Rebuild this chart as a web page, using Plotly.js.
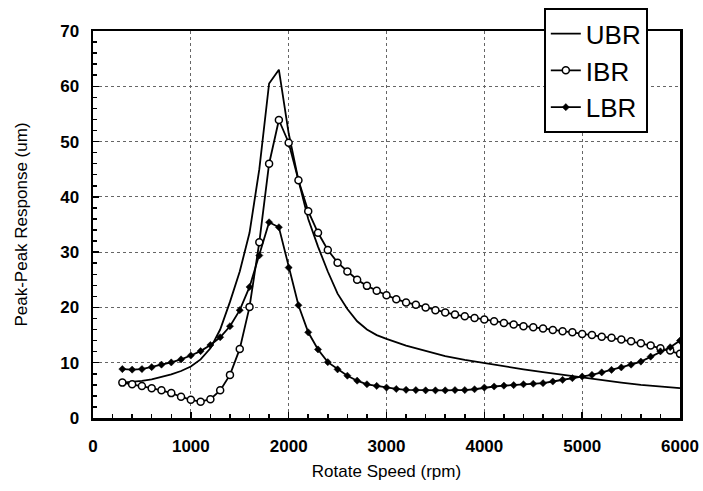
<!DOCTYPE html>
<html>
<head>
<meta charset="utf-8">
<script src="https://cdn.plot.ly/plotly-3.0.1.min.js"></script>
<style>html,body{margin:0;padding:0;background:#fff;}#chart{width:703px;height:491px;}</style>
</head>
<body>
<div id="chart"></div>
<script>
// Rotate speed (rpm) for the marked series
const speedMarked = [300,400,500,600,700,800,900,1000,1100,1200,1300,1400,1500,1600,1700,1800,1900,2000,
  2100,2200,2300,2400,2500,2600,2700,2800,2900,3000,3100,3200,3300,3400,3500,3600,3700,3800,3900,4000,
  4100,4200,4300,4400,4500,4600,4700,4800,4900,5000,5100,5200,5300,5400,5500,5600,5700,5800,5900,6000];

const ibr = [6.4,6.1,5.8,5.4,5.0,4.5,3.85,3.3,2.95,3.4,5.0,7.8,12.5,20.1,31.8,46.0,53.9,49.8,
  43.0,37.4,33.5,30.4,28.1,26.5,25.0,23.9,23.0,22.2,21.5,20.9,20.5,20.0,19.5,19.1,18.7,18.4,18.1,17.8,
  17.5,17.2,16.9,16.6,16.4,16.2,15.9,15.7,15.5,15.2,15.0,14.7,14.5,14.2,13.9,13.5,13.1,12.6,12.2,11.6];

const lbr = [8.85,8.75,8.85,9.2,9.65,10.05,10.6,11.3,12.1,13.2,14.6,16.6,19.5,23.7,29.4,35.4,34.5,27.2,
  20.4,15.5,12.4,10.1,8.8,7.65,6.75,6.1,5.8,5.5,5.25,5.1,5.05,5.0,5.0,5.0,5.05,5.05,5.2,5.5,
  5.7,5.85,5.95,6.1,6.2,6.3,6.6,6.9,7.2,7.5,7.8,8.25,8.7,9.15,9.65,10.2,11.1,12.05,12.8,14.0];

// UBR (plain line)
const speedUBR = [300,400,500,600,700,800,900,1000,1100,1200,1300,1400,1500,1600,1700,1800,1900,2000,
  2100,2200,2300,2400,2500,2600,2700,2800,2900,3000,3200,3400,3600,3800,4000,4200,4400,4600,4800,5000,
  5200,5400,5600,5800,6000];
const ubr = [6.4,6.5,6.7,7.0,7.4,7.9,8.5,9.3,10.6,12.6,16.0,21.0,26.5,33.5,45.0,60.5,63.0,51.5,
  43.0,36.0,31.0,26.5,22.5,19.7,17.5,16.0,15.0,14.3,13.1,12.1,11.2,10.5,9.9,9.3,8.8,8.3,7.8,7.4,
  6.9,6.4,6.0,5.7,5.4];

const seriesNames = ['UBR','IBR','LBR'];
const xTitle = 'Rotate Speed (rpm)';
const yTitle = 'Peak-Peak Response (um)';

const FONT = 'Liberation Sans, Arial, Helvetica, sans-serif';

const traces = [
  {x: speedUBR, y: ubr, name: seriesNames[0], type: 'scatter', mode: 'lines',
   line: {color: '#000', width: 1.8}},
  {x: speedMarked, y: ibr, name: seriesNames[1], type: 'scatter', mode: 'lines+markers',
   line: {color: '#000', width: 1.8},
   marker: {symbol: 'circle', size: 7, color: '#fff', line: {color: '#000', width: 1.5}}},
  {x: speedMarked, y: lbr, name: seriesNames[2], type: 'scatter', mode: 'lines+markers',
   line: {color: '#000', width: 1.8},
   marker: {symbol: 'diamond', size: 5.5, color: '#000', line: {color: '#000', width: 0.5}}}
];

const axisCommon = {
  showline: true, mirror: true, linecolor: '#000', linewidth: 2.5,
  ticks: 'inside', ticklen: 6, tickwidth: 1.5, tickcolor: '#000',
  showgrid: true, gridcolor: '#666', griddash: 'dot', gridwidth: 1,
  zeroline: false,
  tickfont: {family: FONT, size: 17, color: '#000', weight: 'bold'}
};

const layout = {
  width: 703, height: 491,
  margin: {l: 93, r: 23, t: 31, b: 73, autoexpand: false},
  paper_bgcolor: '#fff', plot_bgcolor: '#fff',
  font: {family: FONT, color: '#000'},
  showlegend: true,
  legend: {
    x: 0.768, y: 1.059, xanchor: 'left', yanchor: 'top',
    bgcolor: '#fff', bordercolor: '#000', borderwidth: 2,
    font: {family: FONT, size: 26, color: '#000'},
    tracegroupgap: 0, itemwidth: 30
  },
  xaxis: Object.assign({}, axisCommon, {
    range: [0, 6000], dtick: 1000, tick0: 0,
    ticklabelstandoff: 11,
    minor: {ticks: 'inside', dtick: 200, ticklen: 4, tickcolor: '#000', showgrid: false},
    title: {text: xTitle, font: {family: FONT, size: 17, color: '#000'}, standoff: 10}
  }),
  yaxis: Object.assign({}, axisCommon, {
    range: [0, 70], dtick: 10, tick0: 0,
    ticklabelstandoff: 8,
    minor: {ticks: 'inside', dtick: 2, ticklen: 4, tickcolor: '#000', showgrid: false},
    title: {text: yTitle, font: {family: FONT, size: 17, color: '#000'}, standoff: 28}
  })
};

Plotly.newPlot('chart', traces, layout, {staticPlot: true, displayModeBar: false});
</script>
</body>
</html>
